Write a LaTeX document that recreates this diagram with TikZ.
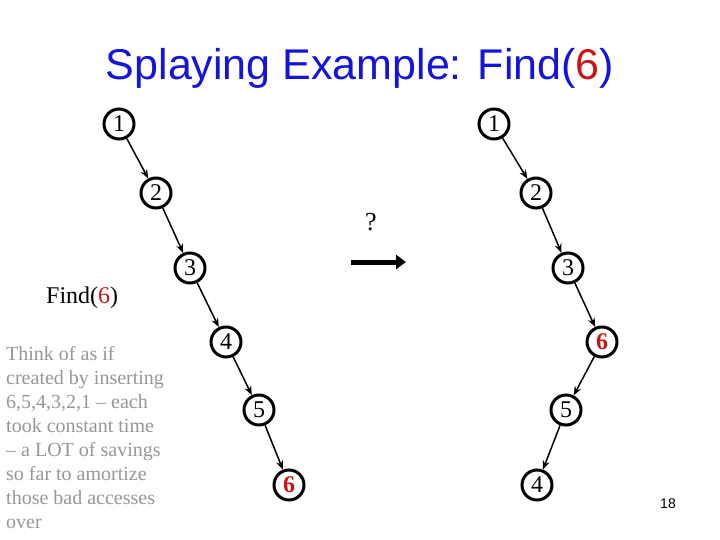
\documentclass[tikz,border=0pt]{standalone}
\usepackage{fontspec}
\setmainfont{Liberation Serif}
\newfontfamily\titlefont{Liberation Sans}
\usetikzlibrary{arrows.meta}
\definecolor{titleblue}{RGB}{20,20,220}
\definecolor{hl}{RGB}{200,20,20}
\definecolor{note}{RGB}{150,150,150}
\begin{document}
\begin{tikzpicture}[x=1pt,y=-1pt,
  tn/.style={circle,draw,line width=3pt,minimum size=30pt,inner sep=0pt,font=\fontsize{24}{24}\selectfont},
  edge/.style={-{Stealth[length=9pt,width=7pt]},line width=1.5pt}]
\useasboundingbox (0,0) rectangle (720,540);
\node[font=\titlefont\fontsize{43}{45}\selectfont,text=titleblue] (t) at (360,68) {Splaying Example: Find(\textcolor{hl}{6})};
\node[tn] (a1) at (119,124) {1};
\node[tn] (a2) at (156,193) {2};
\node[tn] (a3) at (190,268) {3};
\node[tn] (a4) at (226,342) {4};
\node[tn] (a5) at (259,410) {5};
\node[tn] (a6) at (289,485) {\textcolor{hl}{\textbf{6}}};
\draw[edge] (a1)--(a2); \draw[edge] (a2)--(a3); \draw[edge] (a3)--(a4);
\draw[edge] (a4)--(a5); \draw[edge] (a5)--(a6);
\node[tn] (b1) at (494,124) {1};
\node[tn] (b2) at (536,193) {2};
\node[tn] (b3) at (568,268) {3};
\node[tn] (b6) at (602,342) {\textcolor{hl}{\textbf{6}}};
\node[tn] (b5) at (566,410) {5};
\node[tn] (b4) at (537,485) {4};
\draw[edge] (b1)--(b2); \draw[edge] (b2)--(b3); \draw[edge] (b3)--(b6);
\draw[edge] (b6)--(b5); \draw[edge] (b5)--(b4);
\node[font=\fontsize{26}{26}\selectfont] (q) at (371,222) {?};
\coordinate (arS) at (351,262); \coordinate (arE) at (406,262);
\draw[-{Triangle[length=10pt,width=14pt]},line width=5pt] (arS)--(arE);
\node[font=\fontsize{24}{24}\selectfont,anchor=west,inner sep=0pt] (f) at (46,298) {Find(\textcolor{hl}{6})};
\node[font=\fontsize{20}{24}\selectfont,text=note,anchor=north west,align=left,inner sep=0pt] (n) at (6,346) {Think of as if\\created by inserting\\6,5,4,3,2,1 -- each\\took constant time\\-- a LOT of savings\\so far to amortize\\those bad accesses\\over};
\node[font=\titlefont\fontsize{14}{14}\selectfont] (pg) at (668,504) {18};
\end{tikzpicture}
\end{document}
